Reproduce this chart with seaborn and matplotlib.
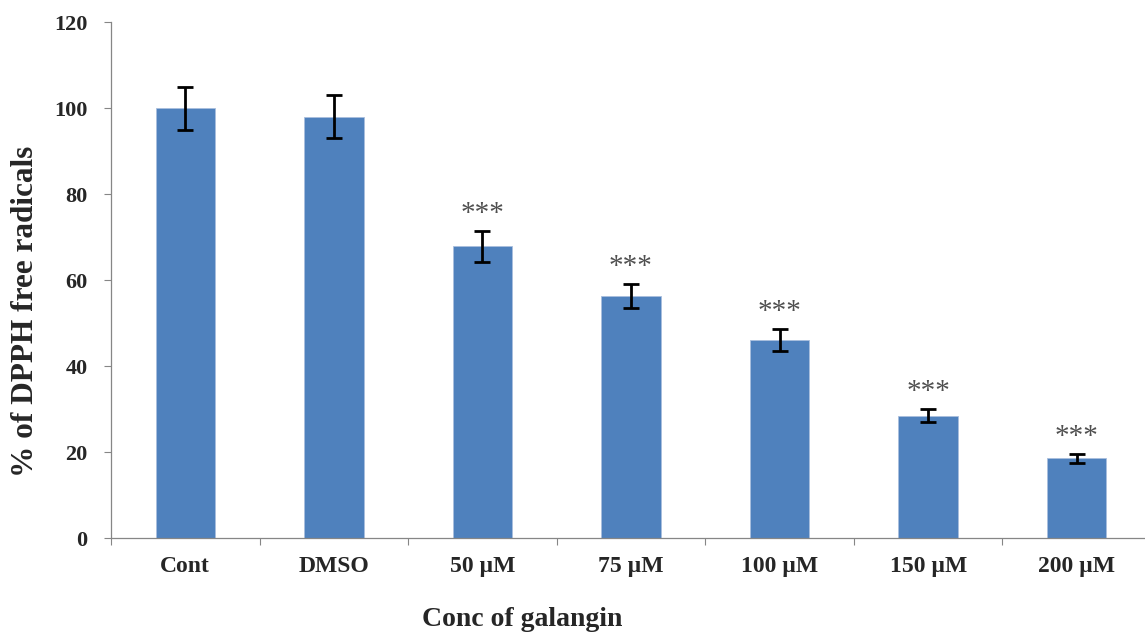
import numpy as np
import pandas as pd
import matplotlib
matplotlib.use("Agg")
import matplotlib.pyplot as plt
import seaborn as sns
from matplotlib.ticker import FixedLocator

categories = ["Cont", "DMSO", "50 µM", "75 µM", "100 µM", "150 µM", "200 µM"]
values = [100.0, 98.0, 67.8, 56.3, 46.1, 28.4, 18.5]
errors = [5.0, 5.0, 3.5, 2.8, 2.5, 1.5, 1.0]
stars = ["", "", "***", "***", "***", "***", "***"]

sns.set_theme(style="white")
plt.rcParams["font.family"] = ["Liberation Serif", "DejaVu Serif"]

df = pd.DataFrame({"cat": categories, "val": values})

fig = plt.figure(figsize=(11.45, 6.34), dpi=100)
ax = fig.add_axes([111/1145, 1 - 538/634, 1040/1145, (538 - 22)/634])

sns.barplot(data=df, x="cat", y="val", color="#4F81BD", saturation=1,
            width=0.4, ax=ax, errorbar=None)
for p in ax.patches:
    p.set_edgecolor("#A9BEDD")
    p.set_linewidth(0.6)

x = np.arange(len(categories))
ax.errorbar(x, values, yerr=errors, fmt="none", ecolor="black",
            elinewidth=2, capsize=6, capthick=2)
for xi, v, e, s in zip(x, values, errors, stars):
    if s:
        ax.text(xi, v + e + 1.0, s, ha="center", va="bottom",
                fontsize=21, color="#505050")

ax.set_xlim(-0.5, len(categories) - 0.5)
ax.set_ylim(0, 120)
ax.set_yticks(np.arange(0, 121, 20))
ax.tick_params(axis="y", which="major", length=5, width=0.8, color="#868686",
               direction="out", left=True, labelsize=16, pad=12)
ax.tick_params(axis="x", which="major", length=0, labelsize=17, pad=13)
ax.xaxis.set_minor_locator(FixedLocator(np.arange(-0.5, len(categories), 1.0)))
ax.tick_params(axis="x", which="minor", length=5, width=0.8, color="#868686",
               direction="out", bottom=True)
for lab in ax.get_xticklabels() + ax.get_yticklabels():
    lab.set_fontweight("bold")

for side in ["top", "right"]:
    ax.spines[side].set_visible(False)
for side in ["left", "bottom"]:
    ax.spines[side].set_color("#868686")
    ax.spines[side].set_linewidth(0.9)

ax.set_xlabel("")
ax.set_ylabel("")
fig.text(26/1145, 1 - 311/634, "% of DPPH free radicals", rotation=90,
         ha="center", va="center", fontsize=22.5, fontweight="bold")
fig.text(522/1145, 1 - 620/634, "Conc of galangin", ha="center", va="center",
         fontsize=20, fontweight="bold")

fig.savefig("out.png", dpi=100)
